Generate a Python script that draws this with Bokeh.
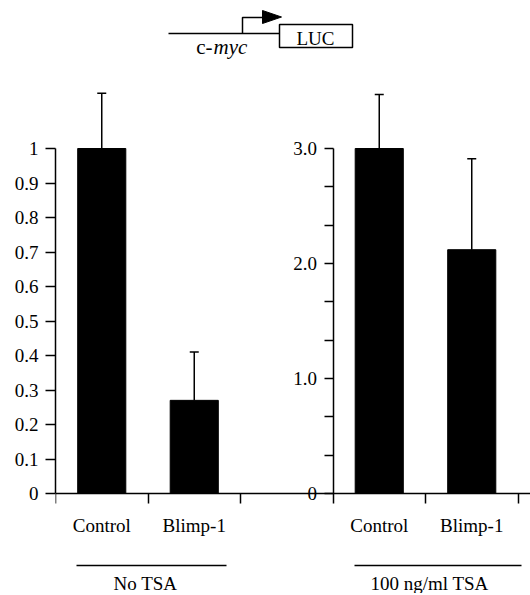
from bokeh.plotting import figure
from bokeh.models import Range1d, LinearAxis, FixedTicker, Whisker, TeeHead, ColumnDataSource
from bokeh.core.properties import value
from bokeh.embed import file_html
from bokeh.resources import INLINE

# ---------------- data ----------------
categories = ["Control", "Blimp-1"]
no_tsa_mean = [1.0, 0.27]
no_tsa_upper = [1.16, 0.41]
tsa_mean = [3.0, 2.12]
tsa_upper = [3.47, 2.91]
group_labels = ["No TSA", "100 ng/ml TSA"]
left_ticks = [0, 0.1, 0.2, 0.3, 0.4, 0.5, 0.6, 0.7, 0.8, 0.9, 1]
left_tick_labels = ["0", "0.1", "0.2", "0.3", "0.4", "0.5", "0.6", "0.7", "0.8", "0.9", "1"]
right_ticks = [0, 1, 2, 3]
right_tick_labels = ["0", "1.0", "2.0", "3.0"]
right_minor_ticks = [1/3, 2/3, 4/3, 5/3, 7/3, 8/3]

# ---------------- layout ----------------
FONT = "Liberation Serif"
FS = "19px"
ORIGIN_X, ORIGIN_Y = 0, 1            # where the figure lands on the page
W, H = 530, 593
LEFT_PX, ZERO_PX = 55, 494
TOP_PX, BOTTOM_PX, RIGHT_PX = ORIGIN_Y, ORIGIN_Y + H, ORIGIN_X + W
PX_X = 92.5          # pixels per category slot
PX_Y_L = 345.0       # pixels per unit, left panel
PX_Y_R = 115.0       # pixels per unit, right panel
RIGHT_OFFSET = 3     # right panel starts at slot 3
BAR_W = 0.52
TXT_SHIFT = 6        # text glyphs render a little below their baseline

def X(px):
    return (px - LEFT_PX) / PX_X

def Y(py):
    return (ZERO_PX - py) / PX_Y_L

def YT(py):
    return Y(py - TXT_SHIFT)

p = figure(width=W, height=H, output_backend="svg", toolbar_location=None,
           x_axis_type=None, y_axis_type=None,
           x_range=Range1d(0, (RIGHT_PX - LEFT_PX) / PX_X),
           y_range=Range1d(-(BOTTOM_PX - ZERO_PX) / PX_Y_L, (ZERO_PX - TOP_PX) / PX_Y_L),
           min_border_left=LEFT_PX - ORIGIN_X, min_border_right=0,
           min_border_top=0, min_border_bottom=0)
p.extra_y_ranges = {"tsa": Range1d(-(BOTTOM_PX - ZERO_PX) / PX_Y_R, (ZERO_PX - TOP_PX) / PX_Y_R)}
p.outline_line_color = None
p.grid.visible = False
p.background_fill_color = "white"
p.border_fill_color = "white"

def style_axis(ax):
    ax.axis_line_color = "black"
    ax.axis_line_width = 1.5
    ax.major_tick_line_color = "black"
    ax.major_tick_line_width = 1.5
    ax.minor_tick_line_color = "black"
    ax.minor_tick_line_width = 1.5
    ax.major_label_text_font = FONT
    ax.major_label_text_font_size = FS
    ax.major_label_text_color = "black"

# left y axis
ly = LinearAxis(ticker=FixedTicker(ticks=left_ticks, minor_ticks=[]), bounds=(0, 1),
                major_label_overrides={t: l for t, l in zip(left_ticks, left_tick_labels)})
style_axis(ly)
ly.major_tick_out = 10
ly.major_tick_in = 0
ly.major_label_standoff = 7
p.add_layout(ly, "left")

# right y axis (fixed at the start of the right panel)
ry = LinearAxis(y_range_name="tsa", fixed_location=RIGHT_OFFSET,
                ticker=FixedTicker(ticks=right_ticks, minor_ticks=right_minor_ticks),
                bounds=(0, 3),
                major_label_overrides={t: l for t, l in zip(right_ticks, right_tick_labels)})
style_axis(ry)
ry.major_tick_out = 9
ry.major_tick_in = 0
ry.minor_tick_out = 9
ry.minor_tick_in = 0
ry.major_label_standoff = 7
p.add_layout(ry, "left")

# x axis at zero
centers_left = [i + 0.5 for i in range(len(categories))]
centers_right = [RIGHT_OFFSET + i + 0.5 for i in range(len(categories))]
bounds_ticks = [0, 1, 2, 3, 4, 5]
xa = LinearAxis(fixed_location=0,
                ticker=FixedTicker(ticks=centers_left + centers_right, minor_ticks=bounds_ticks),
                major_label_overrides={c: n for c, n in zip(centers_left + centers_right, categories + categories)})
style_axis(xa)
xa.major_tick_out = 0
xa.major_tick_in = 0
xa.minor_tick_out = 10
xa.minor_tick_in = 0
xa.major_label_standoff = 11
p.add_layout(xa, "below")

# bars
src_l = ColumnDataSource(dict(x=centers_left, top=no_tsa_mean, upper=no_tsa_upper))
src_r = ColumnDataSource(dict(x=centers_right, top=tsa_mean, upper=tsa_upper))
p.vbar(x="x", top="top", bottom=0, width=BAR_W, source=src_l, fill_color="black", line_color="black")
p.vbar(x="x", top="top", bottom=0, width=BAR_W, source=src_r, fill_color="black", line_color="black",
       y_range_name="tsa")

# error bars
for src, rng in ((src_l, "default"), (src_r, "tsa")):
    w = Whisker(base="x", upper="upper", lower="top", source=src,
                upper_head=TeeHead(size=9, line_width=1.5, line_color="black"), lower_head=None,
                line_width=1.5, line_color="black", y_range_name=rng)
    p.add_layout(w)

# group underlines and labels
group_x0 = [X(76), X(354)]
group_x1 = [X(226), X(521)]
group_cx = [X(145), X(429)]
p.segment(x0=group_x0, x1=group_x1, y0=Y(566), y1=Y(566), line_color="black", line_width=1.5)
p.text(x=group_cx, y=[YT(590)] * 2, text=group_labels, text_font=value(FONT), text_font_size=FS,
       text_align="center", text_baseline="alphabetic", text_color="black")

# ---------------- c-myc / LUC schematic ----------------
p.segment(x0=[X(168)], y0=[Y(34)], x1=[X(280)], y1=[Y(34)], line_color="black", line_width=1.5)
p.line(x=[X(242), X(242), X(264)], y=[Y(34), Y(18), Y(18)], line_color="black", line_width=1.5)
p.patch(x=[X(262), X(262), X(281)], y=[Y(11), Y(24), Y(17.5)], fill_color="black", line_color="black")
p.quad(left=[X(279)], right=[X(352)], top=[Y(25)], bottom=[Y(48)],
       fill_color="white", line_color="black", line_width=1.5)
p.text(x=[X(315)], y=[YT(45)], text=["LUC"], text_font=value(FONT), text_font_size=FS,
       text_align="center", text_baseline="alphabetic", text_color="black")
p.text(x=[X(212)], y=[YT(53)], text=["c-"], text_font=value(FONT), text_font_size="21px",
       text_align="right", text_baseline="alphabetic", text_color="black")
p.text(x=[X(213)], y=[YT(53)], text=["myc"], text_font=value(FONT), text_font_size="21px",
       text_font_style="italic", text_align="left", text_baseline="alphabetic", text_color="black")

open("out.html", "w").write(file_html(p, INLINE))
